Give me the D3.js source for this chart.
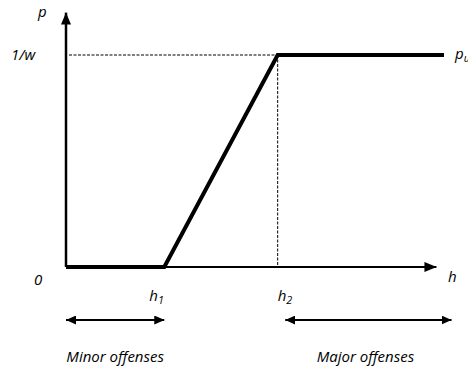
<!DOCTYPE html>
<html>
<head>
<meta charset="utf-8">
<script src="https://cdn.jsdelivr.net/npm/d3@7"></script>
<style>
  body { margin: 0; background: #fff; }
  text { font-family: "Open Sans", Lato, sans-serif; font-style: italic; fill: #000; }
</style>
</head>
<body>
<div id="chart"></div>
<script>
// Piecewise curve p(h): zero up to h1, rising to 1/w at h2, flat after
const curveH = [0, 26, 56, 100];
const curveP = [0, 0, 1, 1];

// axis extents (domain units)
const axisEndH = 98;
const axisEndP = 1.2;

// reference levels
const h1 = 26;
const h2 = 56;
const pTop = 1;

// offense ranges shown under the axis
const rangeNames = ["Minor offenses", "Major offenses"];
const rangeFrom = [0, 58];
const rangeTo = [26, 102];

const width = 468;
const height = 371;

const x = d3.scaleLinear().domain([0, 100]).range([66, 444]);
const y = d3.scaleLinear().domain([0, 1]).range([267, 55]);

const svg = d3
  .select("#chart")
  .append("svg")
  .attr("width", width)
  .attr("height", height);

const defs = svg.append("defs");

function addMarker(id, w, h, orient) {
  defs
    .append("marker")
    .attr("id", id)
    .attr("viewBox", `0 0 ${w} ${h}`)
    .attr("refX", w)
    .attr("refY", h / 2)
    .attr("markerWidth", w)
    .attr("markerHeight", h)
    .attr("markerUnits", "userSpaceOnUse")
    .attr("orient", orient)
    .append("path")
    .attr("d", `M0,0L${w},${h / 2}L0,${h}Z`)
    .attr("fill", "#000");
}
addMarker("axisArrow", 12, 10, "auto");
addMarker("rangeArrow", 10, 9, "auto-start-reverse");

// dashed guides
svg
  .append("line")
  .attr("x1", x(0) + 3)
  .attr("x2", x(h2))
  .attr("y1", y(pTop))
  .attr("y2", y(pTop))
  .attr("stroke", "#000")
  .attr("stroke-width", 1)
  .attr("stroke-dasharray", "3,1.5");

svg
  .append("line")
  .attr("x1", x(h2))
  .attr("x2", x(h2))
  .attr("y1", y(pTop))
  .attr("y2", y(0))
  .attr("stroke", "#000")
  .attr("stroke-width", 1)
  .attr("stroke-dasharray", "3,1.5");

// axes
svg
  .append("line")
  .attr("x1", x(0))
  .attr("x2", x(0))
  .attr("y1", y(0))
  .attr("y2", y(axisEndP))
  .attr("stroke", "#000")
  .attr("stroke-width", 2.5)
  .attr("marker-end", "url(#axisArrow)");

svg
  .append("line")
  .attr("x1", x(0))
  .attr("x2", x(axisEndH))
  .attr("y1", y(0))
  .attr("y2", y(0))
  .attr("stroke", "#000")
  .attr("stroke-width", 2)
  .attr("marker-end", "url(#axisArrow)");

// the curve
const line = d3
  .line()
  .x((d, i) => x(curveH[i]))
  .y((d, i) => y(curveP[i]));

svg
  .append("path")
  .attr("d", line(curveH))
  .attr("fill", "none")
  .attr("stroke", "#000")
  .attr("stroke-width", 4)
  .attr("stroke-linejoin", "miter");

// labels
function label(tx, ty, main, sub, size) {
  const t = svg
    .append("text")
    .attr("x", tx)
    .attr("y", ty)
    .style("font-size", size + "px")
    .text(main);
  if (sub) {
    t.append("tspan").attr("dy", 3).style("font-size", size * 0.72 + "px").text(sub);
  }
  return t;
}

label(38, 17, "p", null, 15);
label(11, 60, "1/w", null, 15);
label(34, 285, "0", null, 15);
label(448, 282, "h", null, 15);
label(x(h1) - 15, 301, "h", "1", 15);
label(x(h2), 301, "h", "2", 15);
label(455, 59, "p", "u", 15);

// offense ranges
rangeNames.forEach((name, i) => {
  svg
    .append("line")
    .attr("x1", x(rangeFrom[i]))
    .attr("x2", x(rangeTo[i]))
    .attr("y1", 320)
    .attr("y2", 320)
    .attr("stroke", "#000")
    .attr("stroke-width", 2)
    .attr("marker-start", "url(#rangeArrow)")
    .attr("marker-end", "url(#rangeArrow)");

  svg
    .append("text")
    .attr("x", (x(rangeFrom[i]) + x(rangeTo[i])) / 2 + (i === 1 ? -3 : 0))
    .attr("y", 362)
    .attr("text-anchor", "middle")
    .style("font-size", "15px")
    .text(name);
});
</script>
</body>
</html>
